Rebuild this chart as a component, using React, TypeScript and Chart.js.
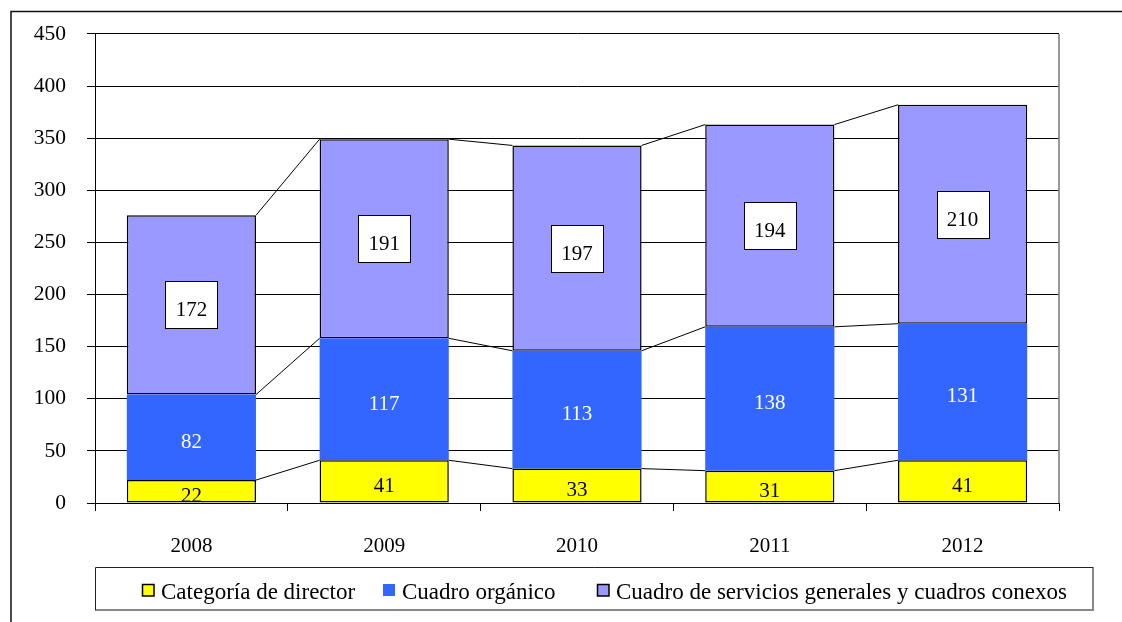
import React, { useEffect, useRef } from "react";
import { Chart, registerables } from "chart.js";

Chart.register(...registerables);

const years = ["2008", "2009", "2010", "2011", "2012"];
const director = [22, 41, 33, 31, 41];
const organico = [82, 117, 113, 138, 131];
const generales = [172, 191, 197, 194, 210];
const seriesNames = [
  "Categoría de director",
  "Cuadro orgánico",
  "Cuadro de servicios generales y cuadros conexos",
];
const yMax = 450;
const yStep = 50;

const FONT = '"Liberation Serif", "Times New Roman", serif';
const LEGEND_X = [142, 383, 597];

const decor = {
  id: "decor",
  beforeDraw(chart: any) {
    const ctx = chart.ctx;
    ctx.save();
    ctx.fillStyle = "#fff";
    ctx.fillRect(0, 0, chart.width, chart.height);
    ctx.restore();
  },
  afterDatasetsDraw(chart: any) {
    const ctx = chart.ctx;
    ctx.save();
    // series lines
    ctx.strokeStyle = "#000";
    ctx.lineWidth = 1;
    chart.data.datasets.forEach((ds: any, d: number) => {
      const meta = chart.getDatasetMeta(d);
      for (let i = 0; i < meta.data.length - 1; i++) {
        const a = meta.data[i];
        const b = meta.data[i + 1];
        ctx.beginPath();
        ctx.moveTo(a.x + a.width / 2, a.y);
        ctx.lineTo(b.x - b.width / 2, b.y);
        ctx.stroke();
      }
    });
    // data labels
    ctx.font = `21px ${FONT}`;
    ctx.textAlign = "center";
    ctx.textBaseline = "middle";
    chart.data.datasets.forEach((ds: any, d: number) => {
      const meta = chart.getDatasetMeta(d);
      meta.data.forEach((bar: any, i: number) => {
        const txt = String(ds.data[i]);
        const cx = bar.x;
        const cy = (bar.y + bar.base) / 2;
        if (d === 2) {
          const w = Math.round(ctx.measureText(txt).width + 20);
          const h = 47;
          const bx = Math.round(cx - w / 2) + 0.5;
          const by = Math.round(cy - h / 2) + 0.5;
          ctx.fillStyle = "#fff";
          ctx.fillRect(bx, by, w, h);
          ctx.strokeStyle = "#000";
          ctx.lineWidth = 1;
          ctx.strokeRect(bx, by, w, h);
          ctx.fillStyle = "#000";
          ctx.fillText(txt, cx, cy + 6);
        } else {
          ctx.fillStyle = d === 1 ? "#fff" : "#000";
          ctx.fillText(txt, cx, cy + 5);
        }
      });
    });
    ctx.restore();
  },
  afterDraw(chart: any) {
    const ctx = chart.ctx;
    const ca = chart.chartArea;
    ctx.save();
    // plot right border
    ctx.strokeStyle = "#777";
    ctx.lineWidth = 1.5;
    ctx.beginPath();
    ctx.moveTo(ca.right, ca.top);
    ctx.lineTo(ca.right, ca.bottom);
    ctx.stroke();
    // outer frame (top and left)
    ctx.strokeStyle = "#111";
    ctx.lineWidth = 1.5;
    ctx.beginPath();
    ctx.moveTo(11, chart.height);
    ctx.lineTo(11, 11.5);
    ctx.lineTo(chart.width, 11.5);
    ctx.stroke();
    // legend box
    ctx.fillStyle = "#fff";
    ctx.fillRect(95, 567, 998, 43);
    ctx.strokeStyle = "#888";
    ctx.lineWidth = 2;
    ctx.beginPath();
    ctx.moveTo(1093, 567);
    ctx.lineTo(1093, 610);
    ctx.lineTo(95, 610);
    ctx.stroke();
    ctx.strokeStyle = "#222";
    ctx.lineWidth = 1;
    ctx.beginPath();
    ctx.moveTo(95.5, 610);
    ctx.lineTo(95.5, 567.5);
    ctx.lineTo(1093, 567.5);
    ctx.stroke();
    // legend items
    ctx.font = `23px ${FONT}`;
    ctx.textAlign = "left";
    ctx.textBaseline = "alphabetic";
    chart.data.datasets.forEach((ds: any, k: number) => {
      const x = LEGEND_X[k];
      ctx.fillStyle = ds.backgroundColor;
      ctx.fillRect(x, 584, 12, 12);
      if (ds.borderWidth > 0) {
        ctx.strokeStyle = "#000";
        ctx.lineWidth = 1.5;
        ctx.strokeRect(x + 0.5, 584.5, 11.5, 11.5);
      }
      ctx.fillStyle = "#000";
      ctx.fillText(ds.label, x + 19, 599);
    });
    ctx.restore();
  },
};

export default function App() {
  const ref = useRef<HTMLCanvasElement | null>(null);
  useEffect(() => {
    if (!ref.current) return;
    const chart = new Chart(ref.current, {
      type: "bar",
      data: {
        labels: years,
        datasets: [
          {
            label: seriesNames[0],
            data: director,
            backgroundColor: "#FFFF00",
            borderColor: "#000",
            borderWidth: 1.5,
            borderSkipped: false,
          },
          {
            label: seriesNames[1],
            data: organico,
            backgroundColor: "#3366FF",
            borderColor: "#3366FF",
            borderWidth: 0,
          },
          {
            label: seriesNames[2],
            data: generales,
            backgroundColor: "#9999FF",
            borderColor: "#000",
            borderWidth: 1.5,
            borderSkipped: false,
          },
        ],
      },
      options: {
        responsive: false,
        animation: false,
        devicePixelRatio: 1,
        layout: { padding: { top: 33, right: 63, left: 0, bottom: 0 } },
        plugins: { legend: { display: false }, tooltip: { enabled: false } },
        datasets: { bar: { categoryPercentage: 1, barPercentage: 0.67 } },
        scales: {
          x: {
            stacked: true,
            afterFit: (s: any) => {
              s.height = 119;
            },
            grid: {
              offset: true,
              drawOnChartArea: false,
              tickLength: 8,
              color: "#000",
            },
            border: { color: "#000", width: 1 },
            ticks: { color: "#000", font: { family: FONT, size: 21 }, padding: 23 },
          },
          y: {
            stacked: true,
            min: 0,
            max: yMax,
            afterFit: (s: any) => {
              s.width = 95;
            },
            grid: { color: "#000", tickLength: 8, lineWidth: 1 },
            border: { color: "#000", width: 1 },
            ticks: {
              stepSize: yStep,
              color: "#000",
              font: { family: FONT, size: 21.5 },
              padding: 21,
            },
          },
        },
      },
      plugins: [decor],
    });
    return () => chart.destroy();
  }, []);
  return (
    <div style={{ position: "absolute", left: 0, top: 0, width: 1122, height: 622 }}>
      <canvas ref={ref} width={1122} height={622} style={{ display: "block" }} />
    </div>
  );
}
